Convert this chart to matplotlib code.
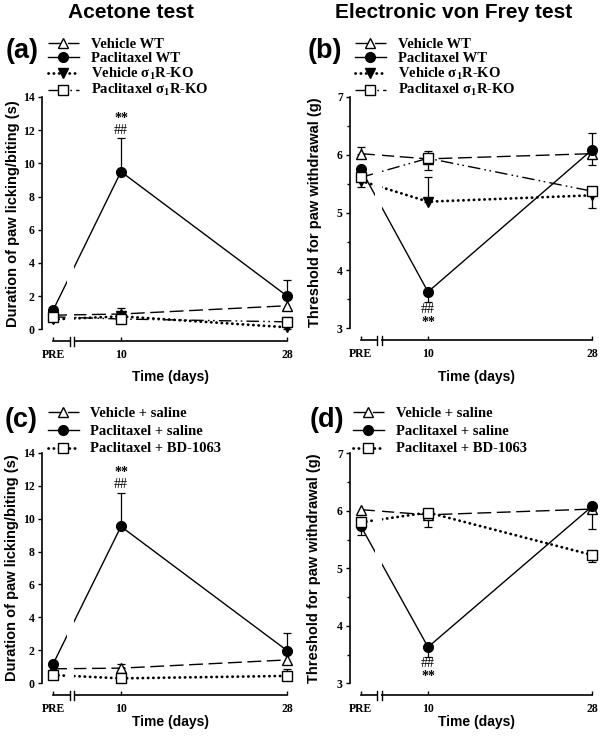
import matplotlib
matplotlib.use('Agg')
import matplotlib.pyplot as plt
import matplotlib.transforms as mtransforms
from matplotlib.lines import Line2D
from matplotlib.patches import Rectangle
from matplotlib.font_manager import FontProperties

plt.rcParams['mathtext.fontset'] = 'custom'
plt.rcParams['mathtext.rm'] = 'Liberation Serif:bold'
plt.rcParams['mathtext.bf'] = 'Liberation Serif:bold'
plt.rcParams['mathtext.it'] = 'Liberation Serif:bold:italic'
plt.rcParams['mathtext.default'] = 'rm'

# ---------------- data ----------------
x_labels = ['PRE', '10', '28']
day_values = [10, 28]

titles = ['Acetone test', 'Electronic von Frey test']
panel_letters = ['(a)', '(b)', '(c)', '(d)']
ylabel_acetone = 'Duration of paw licking/biting (s)'
ylabel_vonfrey = 'Threshold for paw withdrawal (g)'
xlabel = 'Time (days)'

labels_ko = ['Vehicle WT', 'Paclitaxel WT', 'Vehicle σ$_1$R-KO', 'Paclitaxel σ$_1$R-KO']
labels_bd = ['Vehicle + saline', 'Paclitaxel + saline', 'Paclitaxel + BD-1063']

# (a) acetone, knockout
a_veh_wt = [0.85, 0.92, 1.42]
a_veh_wt_lo = [0, 0, 0]
a_veh_wt_hi = [0, 0.35, 0]
a_pac_wt = [1.15, 9.50, 2.00]
a_pac_wt_lo = [0, 0, 0]
a_pac_wt_hi = [0, 2.05, 1.00]
a_veh_ko = [0.60, 0.78, 0.12]
a_veh_ko_lo = [0.10, 0.10, 0.08]
a_veh_ko_hi = [0, 0, 0]
a_pac_ko = [0.75, 0.62, 0.45]
a_pac_ko_lo = [0, 0, 0]
a_pac_ko_hi = [0.10, 0.10, 0.30]

# (b) von Frey, knockout
b_veh_wt = [6.02, 5.93, 6.02]
b_veh_wt_lo = [0, 0, 0.19]
b_veh_wt_hi = [0.12, 0, 0]
b_pac_wt = [5.75, 3.63, 6.09]
b_pac_wt_lo = [0, 0.17, 0]
b_pac_wt_hi = [0, 0, 0.29]
b_veh_ko = [5.55, 5.19, 5.30]
b_veh_ko_lo = [0.10, 0, 0.22]
b_veh_ko_hi = [0, 0.43, 0]
b_pac_ko = [5.61, 5.94, 5.37]
b_pac_ko_lo = [0, 0.21, 0]
b_pac_ko_hi = [0, 0.12, 0]

# (c) acetone, BD-1063
c_veh_sal = [0.88, 0.92, 1.42]
c_veh_sal_lo = [0, 0, 0]
c_veh_sal_hi = [0, 0.25, 0]
c_pac_sal = [1.17, 9.52, 1.98]
c_pac_sal_lo = [0, 0, 0]
c_pac_sal_hi = [0, 2.05, 1.05]
c_pac_bd = [0.50, 0.30, 0.45]
c_pac_bd_lo = [0, 0, 0]
c_pac_bd_hi = [0, 0, 0.40]

# (d) von Frey, BD-1063
d_veh_sal = [6.02, 5.93, 6.03]
d_veh_sal_lo = [0, 0, 0.35]
d_veh_sal_hi = [0, 0, 0]
d_pac_sal = [5.73, 3.63, 6.08]
d_pac_sal_lo = [0.15, 0.17, 0]
d_pac_sal_hi = [0, 0, 0]
d_pac_bd = [5.80, 5.97, 5.23]
d_pac_bd_lo = [0, 0.25, 0.12]
d_pac_bd_hi = [0, 0, 0]

# significance marks: (text, day index, y value, bold)
a_marks = [('**', 1, 12.7, True), ('##', 1, 12.0, False)]
b_marks = [('##', 1, 3.33, False), ('**', 1, 3.10, True)]
c_marks = [('**', 1, 12.8, True), ('##', 1, 12.05, False)]
d_marks = [('##', 1, 3.35, False), ('**', 1, 3.12, True)]

# ---------------- layout / style ----------------
FW, FH, DPI = 6.0, 7.39, 100
PRE_X = 2.65
XLIM = (1.45, 28.3)
BREAK_L, BREAK_R = 4.45, 4.95
GAP_L, GAP_R = 4.2, 4.95
xpos = [PRE_X] + day_values

STYLE = {
    'veh': dict(marker='^', mfc='white', ms=7.5, ls=(0, (10, 4)), lw=1.0, cap='butt'),
    'pac': dict(marker='o', mfc='black', ms=7, ls='-', lw=1.0, cap='butt'),
    'veh_ko': dict(marker='v', mfc='black', ms=7.5, ls=(0, (0.1, 1.8)), lw=2.0, cap='round'),
    'pac_ko': dict(marker='s', mfc='white', ms=6.5, ls=(0, (9, 3, 1.2, 2.5, 1.2, 3)), lw=1.0, cap='butt'),
    'pac_bd': dict(marker='s', mfc='white', ms=6.5, ls=(0, (0.1, 1.8)), lw=2.0, cap='round'),
}

serif_b = dict(family='Liberation Serif', weight='bold')
sans_b = dict(family='Liberation Sans', weight='bold')
LEG_FONT = FontProperties(family='Liberation Serif', weight='bold', size=10.5)

fig = plt.figure(figsize=(FW, FH), dpi=DPI)


def px_rect(left, right, top, bottom):
    return [left / 600, 1 - bottom / 739, (right - left) / 600, (bottom - top) / 739]


def draw_panel(rect, series, ylim, yticks, minor, ylabel, ylabel_x, marks):
    ax = fig.add_axes(rect)
    for s in ['top', 'right']:
        ax.spines[s].set_visible(False)
    ax.spines['left'].set_linewidth(1.2)
    ax.spines['bottom'].set_linewidth(1.2)
    ax.spines['bottom'].set_position(('outward', 8.6))
    for vals, lo, hi, key in series:
        st = STYLE[key]
        ax.plot(xpos, vals, color='black', ls=st['ls'], lw=st['lw'],
                dash_capstyle=st['cap'], solid_capstyle='butt', zorder=2, clip_on=False)
        idx = [i for i in range(len(vals)) if lo[i] > 0 or hi[i] > 0]
        if idx:
            ax.errorbar([xpos[i] for i in idx], [vals[i] for i in idx],
                        yerr=[[lo[i] for i in idx], [hi[i] for i in idx]],
                        fmt='none', ecolor='black', elinewidth=0.9, capsize=3,
                        capthick=0.9, zorder=3, clip_on=False)
        ax.plot(xpos, vals, ls='none', marker=st['marker'], ms=st['ms'],
                mfc=st['mfc'], mec='black', mew=1.0, zorder=4, clip_on=False)
    # gap in the lines at the axis break
    ax.add_patch(Rectangle((GAP_L, 0), GAP_R - GAP_L, 1,
                           transform=ax.get_xaxis_transform(), facecolor='white',
                           edgecolor='none', zorder=2.5))
    ax.set_xlim(*XLIM)
    ax.set_ylim(*ylim)
    ax.spines['bottom'].set_bounds(PRE_X, 28)
    ax.set_yticks(yticks)
    ax.set_yticklabels([str(t) for t in yticks], fontdict=dict(size=8.5, **serif_b))
    if minor:
        ax.set_yticks(minor, minor=True)
    ax.set_xticks(xpos)
    ax.set_xticklabels(x_labels, fontdict=dict(size=8.5, **serif_b))
    ax.tick_params(axis='y', which='major', direction='out', length=3.2, width=1.0, pad=2)
    ax.tick_params(axis='y', which='minor', direction='out', length=2.5, width=1.0)
    ax.tick_params(axis='x', direction='in', length=3.0, width=1.0, pad=5.5)
    ax.set_ylabel(ylabel, fontsize=10.5, va='center', **sans_b)
    ax.yaxis.set_label_coords(ylabel_x, 0.5)
    # axis break
    y0_in = ax.get_position().y0 * FH - 0.12
    bt = mtransforms.blended_transform_factory(ax.transData, fig.dpi_scale_trans)
    ax.plot([BREAK_L + 0.05, BREAK_R - 0.05], [y0_in, y0_in], color='white', lw=3,
            transform=bt, clip_on=False, zorder=5, solid_capstyle='butt')
    for bx in (BREAK_L, BREAK_R):
        ax.plot([bx, bx], [y0_in - 0.045, y0_in + 0.045], color='black', lw=1.0,
                transform=bt, clip_on=False, zorder=6)
    # significance marks
    for txt, i, y, bold in marks:
        ax.text(xpos[i], y, txt, ha='center', va='center', fontsize=10,
                family='Liberation Serif', weight='bold' if bold else 'normal',
                zorder=6)
    handles = []
    for _, _, _, key in series:
        st = STYLE[key]
        handles.append(Line2D([], [], color='black', ls=st['ls'], lw=st['lw'],
                              dash_capstyle=st['cap'], marker=st['marker'],
                              ms=st['ms'], mfc=st['mfc'], mec='black', mew=1.0))
    return ax, handles


def add_legend(ax, handles, labels, x_px, y_px, spacing, textpad):
    ax.legend(handles, labels, loc='upper left',
              bbox_to_anchor=(x_px / 600, 1 - y_px / 739),
              bbox_transform=fig.transFigure, frameon=False, borderpad=0,
              borderaxespad=0, handlelength=2.1, handletextpad=textpad,
              labelspacing=spacing, handleheight=0.5, prop=LEG_FONT)


# (a)
ax_a, h = draw_panel(px_rect(42, 290, 97, 329.3),
                     [(a_veh_wt, a_veh_wt_lo, a_veh_wt_hi, 'veh'),
                      (a_pac_wt, a_pac_wt_lo, a_pac_wt_hi, 'pac'),
                      (a_veh_ko, a_veh_ko_lo, a_veh_ko_hi, 'veh_ko'),
                      (a_pac_ko, a_pac_ko_lo, a_pac_ko_hi, 'pac_ko')],
                     (0, 14), list(range(0, 15, 2)), None, ylabel_acetone, -0.118,
                     a_marks)
add_legend(ax_a, h, labels_ko, 48, 38, 0.05, 0.85)

# (b)
ax_b, h = draw_panel(px_rect(350, 595, 97, 328.3),
                     [(b_veh_wt, b_veh_wt_lo, b_veh_wt_hi, 'veh'),
                      (b_pac_wt, b_pac_wt_lo, b_pac_wt_hi, 'pac'),
                      (b_veh_ko, b_veh_ko_lo, b_veh_ko_hi, 'veh_ko'),
                      (b_pac_ko, b_pac_ko_lo, b_pac_ko_hi, 'pac_ko')],
                     (3, 7), [3, 4, 5, 6, 7], [3.5, 4.5, 5.5, 6.5], ylabel_vonfrey, -0.144,
                     b_marks)
add_legend(ax_b, h, labels_ko, 355, 38, 0.05, 0.85)

# (c)
ax_c, h = draw_panel(px_rect(42, 290, 452.7, 683.3),
                     [(c_veh_sal, c_veh_sal_lo, c_veh_sal_hi, 'veh'),
                      (c_pac_sal, c_pac_sal_lo, c_pac_sal_hi, 'pac'),
                      (c_pac_bd, c_pac_bd_lo, c_pac_bd_hi, 'pac_bd')],
                     (0, 14), list(range(0, 15, 2)), None, ylabel_acetone, -0.12,
                     c_marks)
add_legend(ax_c, h, labels_bd, 48, 407, 0.32, 0.75)

# (d)
ax_d, h = draw_panel(px_rect(350, 595, 453.3, 683.3),
                     [(d_veh_sal, d_veh_sal_lo, d_veh_sal_hi, 'veh'),
                      (d_pac_sal, d_pac_sal_lo, d_pac_sal_hi, 'pac'),
                      (d_pac_bd, d_pac_bd_lo, d_pac_bd_hi, 'pac_bd')],
                     (3, 7), [3, 4, 5, 6, 7], [3.5, 4.5, 5.5, 6.5], ylabel_vonfrey, -0.147,
                     d_marks)
add_legend(ax_d, h, labels_bd, 353, 407, 0.32, 0.85)


def ftext(x, y, s, **kw):
    fig.text(x / 600, 1 - y / 739, s, **kw)


ftext(131, 12, titles[0], ha='center', va='center', fontsize=15, **sans_b)
ftext(454, 12, titles[1], ha='center', va='center', fontsize=15, **sans_b)
for (x, y), s in zip([(22, 51), (325, 51), (21, 420), (327, 420)], panel_letters):
    ftext(x, y, s, ha='center', va='center', fontsize=19.5, **sans_b)
for x, y in [(170, 377), (477, 377), (170, 722), (477, 722)]:
    ftext(x, y, xlabel, ha='center', va='center', fontsize=10, **sans_b)

fig.savefig('out.png', dpi=DPI)
